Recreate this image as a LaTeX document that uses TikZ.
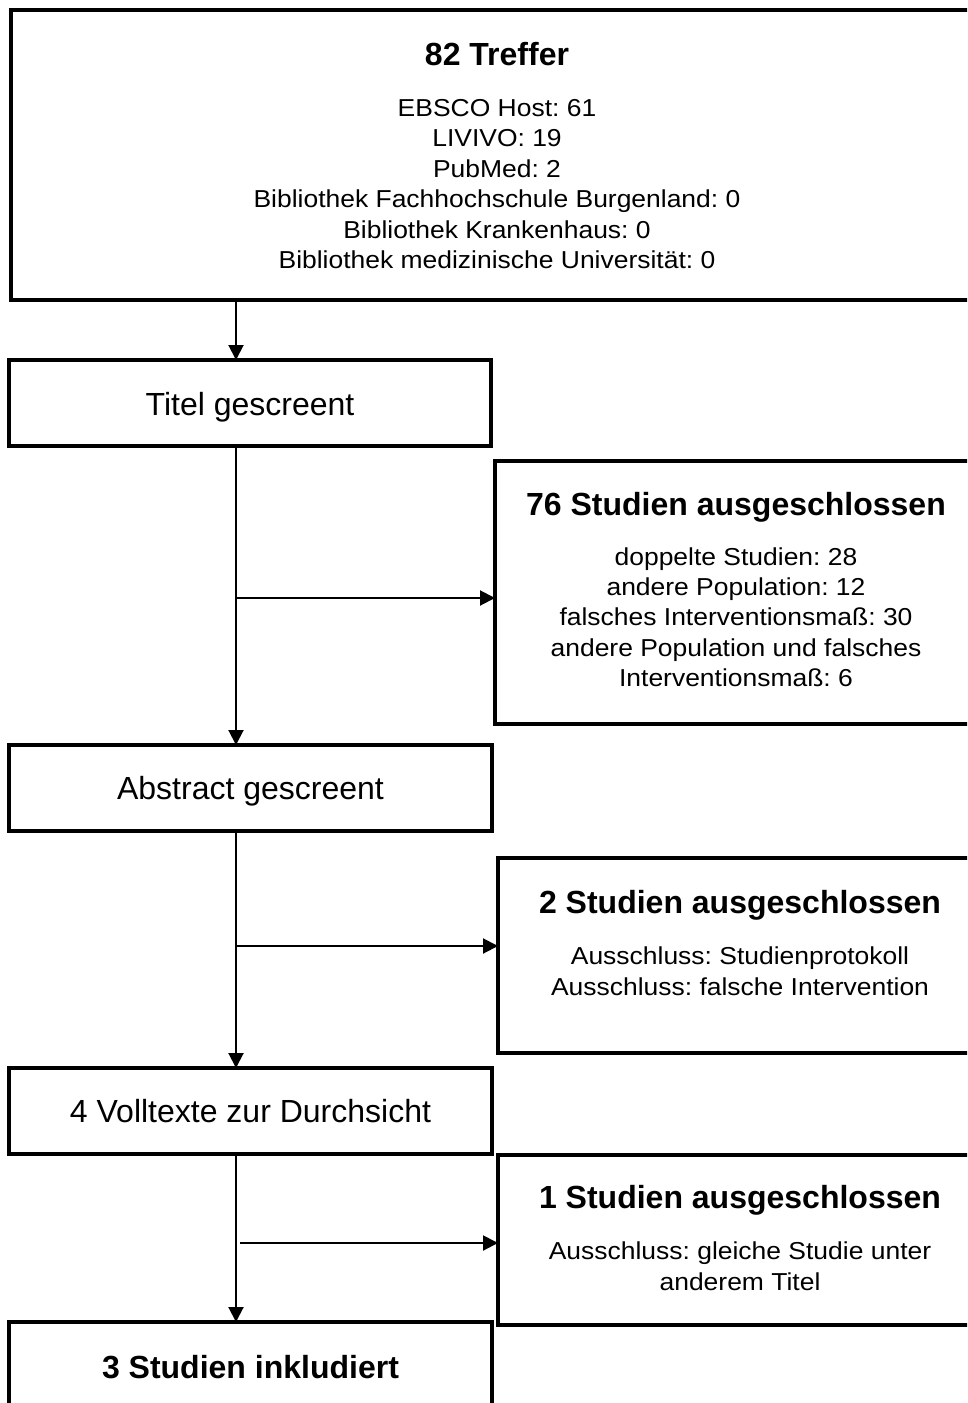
\documentclass[tikz,border=0pt]{standalone}
\usepackage{fontspec}
\setmainfont{Liberation Sans}
\newfontfamily\bodyf[FakeStretch=1.08]{Liberation Sans}
\usetikzlibrary{arrows.meta}
\frenchspacing
\begin{document}
\begin{tikzpicture}[x=1pt,y=-1pt,
  box/.style={draw,line width=3.2pt,inner sep=0pt,outer sep=0pt},
  conn/.style={line width=2pt},
  arr/.style={conn,-{Triangle[length=15pt,width=15pt]}},
  ttl/.style={anchor=base,inner sep=0pt,font=\fontsize{32}{32}\selectfont\bfseries\frenchspacing},
  lbl/.style={anchor=base,inner sep=0pt,font=\fontsize{32}{32}\selectfont\frenchspacing},
  bdy/.style={anchor=base,inner sep=0pt,font=\fontsize{24.5}{30}\bodyf\frenchspacing}]
\useasboundingbox (0,0) rectangle (967,1403);
\clip (0,0) rectangle (967,1403);
% boxes
\node[box,minimum width=972pt,minimum height=290pt] (top) at (497,155) {};
\node[box,minimum width=482pt,minimum height=86pt] (titel) at (250,403) {};
\node[box,minimum width=482pt,minimum height=263pt] (ex1) at (736,592.5) {};
\node[box,minimum width=483pt,minimum height=86pt] (abstract) at (250.5,788) {};
\node[box,minimum width=484pt,minimum height=195pt] (ex2) at (740,955.5) {};
\node[box,minimum width=483pt,minimum height=86pt] (voll) at (250.5,1111) {};
\node[box,minimum width=484pt,minimum height=170pt] (ex3) at (740,1240) {};
\node[box,minimum width=483pt,minimum height=98pt] (incl) at (250.5,1371) {};
% texts
\node[ttl] (t0) at (497,65.7) {82 Treffer};
\node[bdy] (t0a) at (497,116) {EBSCO Host: 61};
\node[bdy] (t0b) at (497,146.5) {LIVIVO: 19};
\node[bdy] (t0c) at (497,177) {PubMed: 2};
\node[bdy] (t0d) at (497,207.5) {Bibliothek Fachhochschule Burgenland: 0};
\node[bdy] (t0e) at (497,238) {Bibliothek Krankenhaus: 0};
\node[bdy] (t0f) at (497,268.5) {Bibliothek medizinische Universität: 0};
\node[lbl] (t1) at (250,415) {Titel gescreent};
\node[ttl] (t2) at (736,515) {76 Studien ausgeschlossen};
\node[bdy] (t2a) at (736,565.5) {doppelte Studien: 28};
\node[bdy] (t2b) at (736,595.5) {andere Population: 12};
\node[bdy] (t2c) at (736,625.5) {falsches Interventionsmaß: 30};
\node[bdy] (t2d) at (736,656) {andere Population und falsches};
\node[bdy] (t2e) at (736,686) {Interventionsmaß: 6};
\node[lbl] (t3) at (250.5,799.5) {Abstract gescreent};
\node[ttl] (t4) at (740,913) {2 Studien ausgeschlossen};
\node[bdy] (t4a) at (740,964) {Ausschluss: Studienprotokoll};
\node[bdy] (t4b) at (740,995) {Ausschluss: falsche Intervention};
\node[lbl] (t5) at (250.5,1122.5) {4 Volltexte zur Durchsicht};
\node[ttl] (t6) at (740,1208) {1 Studien ausgeschlossen};
\node[bdy] (t6a) at (740,1259) {Ausschluss: gleiche Studie unter};
\node[bdy] (t6b) at (740,1290) {anderem Titel};
\node[ttl] (t7) at (250.5,1378) {3 Studien inkludiert};
% connectors
\coordinate (sx) at (236,0);
\coordinate (b1) at (236,598);
\coordinate (b2) at (236,946);
\coordinate (b3) at (240,1243);
\draw[arr] (top.south -| sx) -- (titel.north -| sx);
\draw[arr] (titel.south -| sx) -- (abstract.north -| sx);
\draw[arr] (abstract.south -| sx) -- (voll.north -| sx);
\draw[arr] (voll.south -| sx) -- (incl.north -| sx);
\draw[arr] (b1) -- (ex1.west |- b1);
\draw[arr] (b2) -- (ex2.west |- b2);
\draw[arr] (b3) -- (ex3.west |- b3);
\end{tikzpicture}
\end{document}
